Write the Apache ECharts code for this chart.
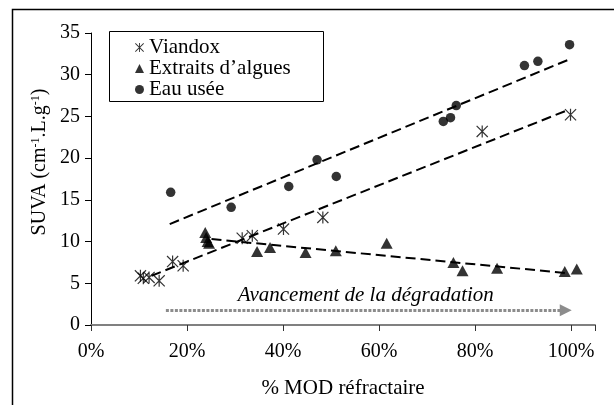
<!DOCTYPE html>
<html>
<head>
<meta charset="utf-8">
<script src="https://cdn.jsdelivr.net/npm/echarts@6/dist/echarts.min.js"></script>
<style>
html,body{margin:0;padding:0;background:#fff;}
#chart{width:614px;height:405px;}
</style>
</head>
<body>
<div id="chart"></div>
<script>
// ---- data ----
var viandoxX = [10.3, 10.9, 12.1, 14.2, 17.0, 19.2, 31.5, 33.6, 40.1, 48.3, 81.5, 99.9];
var viandoxY = [5.9, 5.6, 5.7, 5.3, 7.6, 7.1, 10.4, 10.7, 11.5, 12.9, 23.2, 25.2];

var algaeX = [23.8, 24.0, 24.3, 24.6, 34.6, 37.3, 44.7, 51.0, 61.6, 75.5, 77.4, 84.6, 98.7, 101.2];
var algaeY = [11.1, 10.5, 10.0, 9.8, 8.8, 9.3, 8.7, 8.9, 9.8, 7.5, 6.5, 6.8, 6.4, 6.7];

var eauX = [16.6, 29.2, 41.2, 47.1, 51.1, 73.4, 74.9, 76.1, 90.3, 93.1, 99.7];
var eauY = [15.9, 14.1, 16.6, 19.8, 17.8, 24.4, 24.85, 26.3, 31.1, 31.6, 33.6];

var trendViandoxX = [12.6, 99.5];
var trendViandoxY = [5.9, 25.8];
var trendAlgaeX = [25.1, 99.5];
var trendAlgaeY = [10.3, 6.2];
var trendEauX = [16.4, 99.5];
var trendEauY = [12.1, 31.8];

var arrowX = [15.6, 98.9];
var arrowY = [1.76, 1.76];

var seriesNames = ['Viandox', 'Extraits d\u2019algues', 'Eau usée'];
var xTicks = [0, 20, 40, 60, 80, 100];
var yTicks = [0, 5, 10, 15, 20, 25, 30, 35];
var xTitle = '% MOD réfractaire';
var yTitle = 'SUVA (cm{sup|-1}.L.g{sup|-1})';
var annotation = 'Avancement de la dégradation';

function pairs(xs, ys) { return xs.map(function (x, i) { return [x, ys[i]]; }); }

var serif = 'Liberation Serif';
var asterisk = 'path://M0,0.85L0.85,0L12,11.15L11.15,12ZM11.15,0L12,0.85L0.85,12L0,11.15ZM5.4,0L6.6,0L6.6,12L5.4,12Z';
var dash = { color: '#000', width: 2, type: [10, 5] };

var chart = echarts.init(document.getElementById('chart'), null, { renderer: 'canvas' });
chart.setOption({
  animation: false,
  backgroundColor: '#fff',
  grid: { left: 91, right: 19, top: 33, bottom: 80, containLabel: false },
  xAxis: {
    type: 'value', min: 0, max: 105, interval: 20,
    splitLine: { show: false },
    axisLine: { lineStyle: { color: '#808080', width: 2 } },
    axisTick: { inside: false, length: 6, lineStyle: { color: '#333', width: 1 } },
    axisLabel: {
      margin: 17, color: '#000', fontFamily: serif, fontSize: 20,
      formatter: function (v) { return xTicks.indexOf(v) >= 0 ? v + '%' : ''; }
    },
    name: xTitle, nameLocation: 'middle', nameGap: 53,
    nameTextStyle: { color: '#000', fontFamily: serif, fontSize: 21 }
  },
  yAxis: {
    type: 'value', min: 0, max: 35, interval: 5,
    splitLine: { show: false },
    axisLine: { show: true, lineStyle: { color: '#000', width: 1 } },
    axisTick: { show: true, inside: false, length: 6, lineStyle: { color: '#000', width: 1 } },
    axisLabel: {
      margin: 11, color: '#000', fontFamily: serif, fontSize: 20,
      formatter: function (v) { return yTicks.indexOf(v) >= 0 ? String(v) : ''; }
    }
  },
  legend: {
    orient: 'vertical', left: 135, top: 37, padding: 0, itemGap: 0,
    itemWidth: 9, itemHeight: 9,
    data: seriesNames,
    textStyle: { color: '#000', fontFamily: serif, fontSize: 21, lineHeight: 21 }
  },
  graphic: [
    { type: 'rect', left: 10, top: 7, shape: { width: 700, height: 500 }, style: { fill: 'none', stroke: '#000', lineWidth: 1.5 }, silent: true, z: 100 },
    { type: 'rect', left: 107, top: 29, shape: { width: 214, height: 70 }, style: { fill: 'none', stroke: '#000', lineWidth: 1 }, silent: true, z: 100 },
    {
      type: 'text', x: 40, y: 162, rotation: Math.PI / 2, silent: true,
      style: {
        text: yTitle, fill: '#000', fontFamily: serif, fontSize: 20,
        align: 'center', verticalAlign: 'middle',
        rich: { sup: { fontSize: 12, fontFamily: serif, fill: '#000', verticalAlign: 'top', padding: [0, 0, 8, 0] } }
      }
    }
  ],
  series: [
    {
      name: seriesNames[0], type: 'scatter', data: pairs(viandoxX, viandoxY),
      symbol: asterisk, symbolSize: 12, itemStyle: { color: '#000' }, z: 5
    },
    {
      name: seriesNames[1], type: 'scatter', data: pairs(algaeX, algaeY),
      symbol: 'triangle', symbolSize: [12, 11], itemStyle: { color: '#000' }, z: 5
    },
    {
      name: seriesNames[2], type: 'scatter', data: pairs(eauX, eauY),
      symbol: 'circle', symbolSize: 9.5, itemStyle: { color: '#000' }, z: 5
    },
    { name: 't1', type: 'line', data: pairs(trendViandoxX, trendViandoxY), showSymbol: false, symbol: 'none', lineStyle: dash, z: 3 },
    { name: 't2', type: 'line', data: pairs(trendAlgaeX, trendAlgaeY), showSymbol: false, symbol: 'none', lineStyle: dash, z: 3 },
    { name: 't3', type: 'line', data: pairs(trendEauX, trendEauY), showSymbol: false, symbol: 'none', lineStyle: dash, z: 3 },
    {
      name: 'arrow', type: 'line', data: [], z: 2,
      markLine: {
        silent: true, animation: false,
        symbol: ['none', 'triangle'], symbolSize: 12,
        lineStyle: { color: '#8c8c8c', width: 3, type: [3, 1.5] },
        itemStyle: { color: '#8c8c8c' },
        label: {
          show: true, position: 'middle', formatter: annotation, distance: 4,
          color: '#000', fontFamily: serif, fontStyle: 'italic', fontSize: 21
        },
        emphasis: { disabled: true },
        data: [[{ coord: [arrowX[0], arrowY[0]] }, { coord: [arrowX[1], arrowY[1]] }]]
      }
    }
  ]
});
</script>
</body>
</html>
